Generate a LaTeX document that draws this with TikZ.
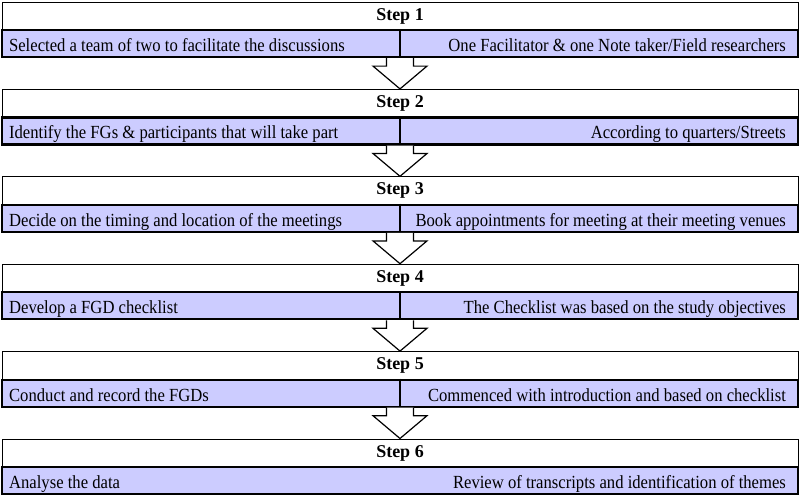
\documentclass[tikz,border=0pt]{standalone}
\usepackage{fontspec}
\setmainfont{Liberation Serif}
\newfontfamily\rowfont[FakeStretch=0.9]{Liberation Serif}
\usetikzlibrary{calc}
\definecolor{rowfill}{RGB}{204,204,255}
\begin{document}
\begin{tikzpicture}[x=1pt,y=-1pt,
    stephead/.style={draw, line width=1pt, fill=white, minimum width=796pt, minimum height=28pt,
      inner sep=0pt, font=\bfseries\fontsize{18}{21}\selectfont},
    steprow/.style={draw, line width=2.2pt, fill=rowfill, minimum width=796pt, minimum height=27pt, inner sep=0pt},
    lefttext/.style={anchor=base west, inner sep=0pt, font=\rowfont\fontsize{18.5}{21}\selectfont},
    righttext/.style={anchor=base east, inner sep=0pt, font=\rowfont\fontsize{18.5}{21}\selectfont},
    divider/.style={line width=2pt},
    blockarrow/.style={draw, line width=1.2pt, fill=white, line join=miter}]
  \useasboundingbox (0,0) rectangle (800,498);
  % Step 1
  \node[stephead] (head1) at (400,16) {Step 1};
  \node[steprow] (row1) at (400,43.5) {};
  \draw[divider] (row1.north) -- (row1.south);
  \node[lefttext] (l1) at ($(row1.west)+(8,8)$) {Selected a team of two to facilitate the discussions};
  \node[righttext] (r1) at ($(row1.east)+(-13,8)$) {One Facilitator \& one Note taker/Field researchers};
  % Step 2
  \node[stephead] (head2) at (400,103.4) {Step 2};
  \node[steprow] (row2) at (400,130.9) {};
  \draw[divider] (row2.north) -- (row2.south);
  \node[lefttext] (l2) at ($(row2.west)+(8,8)$) {Identify the FGs \& participants that will take part};
  \node[righttext] (r2) at ($(row2.east)+(-13,8)$) {According to quarters/Streets};
  % Step 3
  \node[stephead] (head3) at (400,190.8) {Step 3};
  \node[steprow] (row3) at (400,218.3) {};
  \draw[divider] (row3.north) -- (row3.south);
  \node[lefttext] (l3) at ($(row3.west)+(8,8)$) {Decide on the timing and location of the meetings};
  \node[righttext] (r3) at ($(row3.east)+(-13,8)$) {Book appointments for meeting at their meeting venues};
  % Step 4
  \node[stephead] (head4) at (400,278.2) {Step 4};
  \node[steprow] (row4) at (400,305.7) {};
  \draw[divider] (row4.north) -- (row4.south);
  \node[lefttext] (l4) at ($(row4.west)+(8,8)$) {Develop a FGD checklist};
  \node[righttext] (r4) at ($(row4.east)+(-13,8)$) {The Checklist was based on the study objectives};
  % Step 5
  \node[stephead] (head5) at (400,365.6) {Step 5};
  \node[steprow] (row5) at (400,393.1) {};
  \draw[divider] (row5.north) -- (row5.south);
  \node[lefttext] (l5) at ($(row5.west)+(8,8)$) {Conduct and record the FGDs};
  \node[righttext] (r5) at ($(row5.east)+(-13,8)$) {Commenced with introduction and based on checklist};
  % Step 6 (no divider)
  \node[stephead] (head6) at (400,453) {Step 6};
  \node[steprow] (row6) at (400,480.5) {};
  \node[lefttext] (l6) at ($(row6.west)+(8,8)$) {Analyse the data};
  \node[righttext] (r6) at ($(row6.east)+(-13,8)$) {Review of transcripts and identification of themes};
  % Arrows between steps
  \draw[blockarrow] ($(row1.south)+(-13.5,0)$) -- ++(0,8) -- ++(-13.5,0) -- (head2.north) -- ($(row1.south)+(27,8)$) -- ++(-13.5,0) -- ($(row1.south)+(13.5,0)$);
  \draw[blockarrow] ($(row2.south)+(-13.5,0)$) -- ++(0,8) -- ++(-13.5,0) -- (head3.north) -- ($(row2.south)+(27,8)$) -- ++(-13.5,0) -- ($(row2.south)+(13.5,0)$);
  \draw[blockarrow] ($(row3.south)+(-13.5,0)$) -- ++(0,8) -- ++(-13.5,0) -- (head4.north) -- ($(row3.south)+(27,8)$) -- ++(-13.5,0) -- ($(row3.south)+(13.5,0)$);
  \draw[blockarrow] ($(row4.south)+(-13.5,0)$) -- ++(0,8) -- ++(-13.5,0) -- (head5.north) -- ($(row4.south)+(27,8)$) -- ++(-13.5,0) -- ($(row4.south)+(13.5,0)$);
  \draw[blockarrow] ($(row5.south)+(-13.5,0)$) -- ++(0,8) -- ++(-13.5,0) -- (head6.north) -- ($(row5.south)+(27,8)$) -- ++(-13.5,0) -- ($(row5.south)+(13.5,0)$);
\end{tikzpicture}
\end{document}
